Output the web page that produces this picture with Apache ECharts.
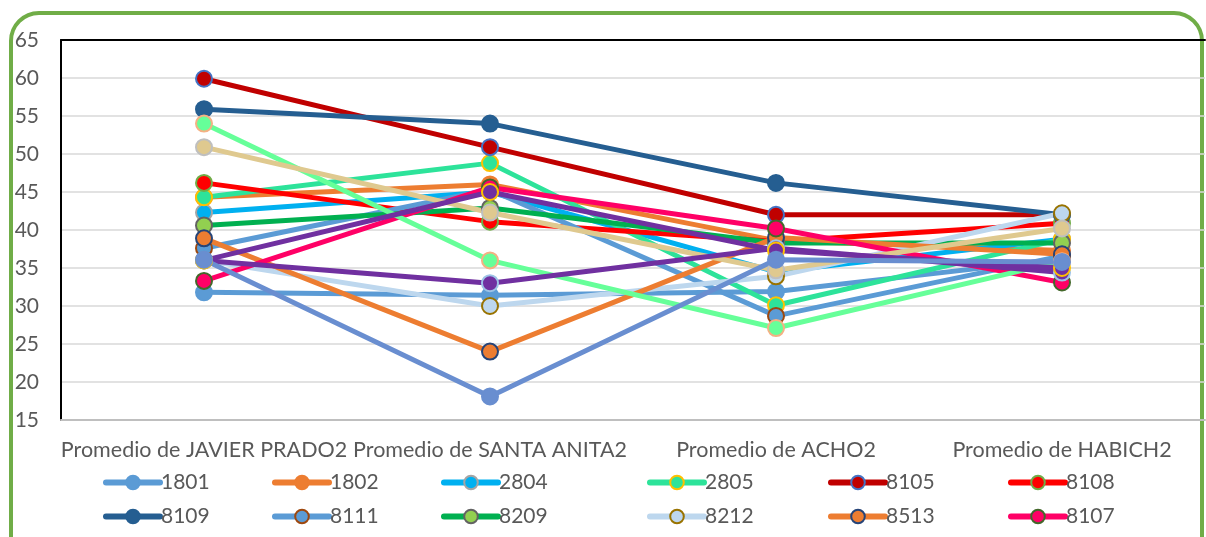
<!DOCTYPE html>
<html>
<head>
<meta charset="utf-8">
<script src="https://cdn.jsdelivr.net/npm/echarts@6/dist/echarts.min.js"></script>
<style>
  html, body { margin: 0; padding: 0; background: #fff; overflow: hidden; }
  #frame {
    position: absolute; left: 9px; top: 11px; width: 1195px; height: 620px;
    border: 4px solid #70AD47; border-radius: 30px; box-sizing: border-box;
  }
  #chart { position: absolute; left: 0; top: 0; width: 1206px; height: 537px; }
</style>
</head>
<body>
<div id="frame"></div>
<div id="chart"></div>
<script>
// categories (x axis)
const categories = ['Promedio de JAVIER PRADO2', 'Promedio de SANTA ANITA2', 'Promedio de ACHO2', 'Promedio de HABICH2']

// y axis range
const yMin = 15
const yMax = 65
const yStep = 5

// series values, one per category
const s1801 = [31.8, 31.4, 31.9, 36.2]
const s1802 = [44.3, 46.0, 38.6, 37.3]
const s2804 = [42.3, 45.0, 34.5, 38.8]
const s2805 = [44.3, 48.8, 30.1, 38.8]
const s8105 = [59.9, 50.9, 42.0, 42.0]
const s8108 = [46.2, 41.1, 38.5, 40.9]
const s8109 = [55.9, 54.0, 46.2, 42.0]
const s8111 = [37.6, 45.3, 28.7, 36.6]
const s8209 = [40.6, 42.9, 38.3, 38.3]
const s8212 = [36.0, 30.0, 33.9, 42.2]
const s8513 = [38.9, 24.0, 39.0, 36.8]
const s8107 = [33.3, 45.6, 40.2, 33.1]
// series drawn but not listed in the visible legend
const sExtraA = [54.0, 36.0, 27.1, 35.9]
const sExtraB = [50.9, 42.3, 34.7, 40.2]
const sExtraC = [36.0, 33.0, 37.6, 34.4]
const sExtraD = [36.0, 45.0, 37.3, 35.0]
const sExtraE = [36.1, 18.1, 36.1, 35.8]

// legend columns (two rows each)
const legendCols = [['1801', '8109'], ['1802', '8111'], ['2804', '8209'], ['2805', '8212'], ['8105', '8513'], ['8108', '8107']]
const legendLeft = [98, 267, 436, 642, 823, 1003]

const FONT = 'Lato'
const TEXT = '#595959'

// name, data, line colour, marker fill, marker border
const defs = [
  ['1801', s1801, '#5B9BD5', '#5B9BD5', '#5B9BD5'],
  ['1802', s1802, '#ED7D31', '#ED7D31', '#ED7D31'],
  ['2804', s2804, '#00B0F0', '#00B0F0', '#A5A5A5'],
  ['2805', s2805, '#2DE39A', '#2DE39A', '#FFC000'],
  ['8105', s8105, '#C00000', '#C00000', '#4472C4'],
  ['8108', s8108, '#FF0000', '#FF0000', '#70AD47'],
  ['8109', s8109, '#255E91', '#255E91', '#255E91'],
  ['8111', s8111, '#5B9BD5', '#5B9BD5', '#9E480E'],
  ['8209', s8209, '#00B050', '#92D050', '#636363'],
  ['8212', s8212, '#BDD7EE', '#BDD7EE', '#997300'],
  ['8513', s8513, '#ED7D31', '#ED7D31', '#264478'],
  ['8107', s8107, '#FF0066', '#FF0066', '#43682B'],
  ['extra A', sExtraA, '#66FF99', '#66FF99', '#F4B183'],
  ['extra B', sExtraB, '#DFC98F', '#DFC98F', '#BFBFBF'],
  ['extra C', sExtraC, '#7030A0', '#7030A0', '#9DC3E6'],
  ['extra D', sExtraD, '#7030A0', '#7030A0', '#FFC000'],
  ['extra E', sExtraE, '#698ED0', '#698ED0', '#698ED0']
]

const series = defs.map(([name, data, line, fill, border]) => ({
  name,
  type: 'line',
  data,
  symbol: 'circle',
  symbolSize: 16,
  showAllSymbol: true,
  lineStyle: { width: 5, color: line },
  itemStyle: { color: fill, borderColor: border, borderWidth: 2 },
  emphasis: { disabled: true }
}))

const legends = legendCols.map((names, i) => ({
  orient: 'vertical',
  left: legendLeft[i],
  top: 467,
  itemWidth: 54,
  itemHeight: 17,
  itemGap: 13,
  data: names,
  lineStyle: { width: 6, cap: 'round' },
  textStyle: { color: TEXT, fontSize: 21, fontFamily: FONT, padding: [0, 0, 0, -4] }
}))

const chart = echarts.init(document.getElementById('chart'), null, { renderer: 'canvas' })
chart.setOption({
  backgroundColor: 'transparent',
  animation: false,
  legend: legends,
  grid: { left: 61, top: 40, width: 1144, height: 380 },
  xAxis: [
    {
      type: 'category',
      data: categories,
      boundaryGap: true,
      axisLine: { lineStyle: { color: '#BFBFBF', width: 2 } },
      axisTick: { show: false },
      axisLabel: { color: TEXT, fontSize: 21.5, fontFamily: FONT, margin: 19, interval: 0 }
    },
    {
      // plot-area top edge
      type: 'category',
      data: categories,
      position: 'top',
      axisLine: { lineStyle: { color: '#000', width: 2 } },
      axisTick: { show: false },
      axisLabel: { show: false }
    }
  ],
  yAxis: {
    type: 'value',
    min: yMin,
    max: yMax,
    interval: yStep,
    axisLine: { show: true, lineStyle: { color: '#000', width: 2 } },
    axisTick: { show: false },
    splitLine: { lineStyle: { color: '#D9D9D9', width: 1.5 } },
    axisLabel: { color: TEXT, fontSize: 21, fontFamily: FONT, margin: 22 }
  },
  series
})
</script>
</body>
</html>
